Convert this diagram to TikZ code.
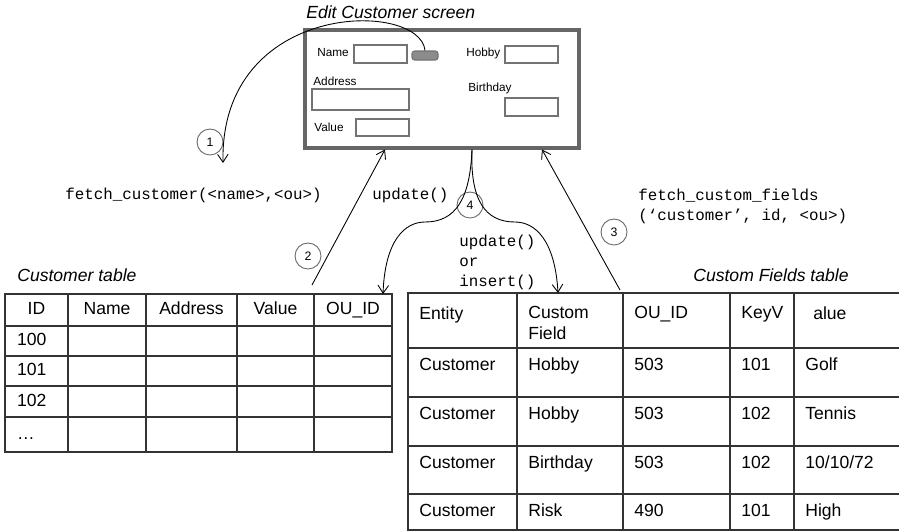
\documentclass[tikz,border=0pt]{standalone}
\usepackage{fontspec}
\setmainfont{Liberation Sans}
\setmonofont{Liberation Mono}
\usepackage{tikz}
\usetikzlibrary{arrows.meta, calc, positioning}

\newcommand{\pxu}{0.02cm}

\begin{document}
\begin{tikzpicture}[x=0.02cm, y=-0.02cm]
        \tikzstyle{screen} = [rectangle, draw=black!60, line width=2pt, anchor=north west, inner sep=0pt]
        \tikzstyle{field} = [rectangle, draw=black!55, line width=0.6pt, inner sep=0pt]
        \tikzstyle{flabel} = [anchor=west, inner sep=0pt, font=\fontsize{6.7}{8}\selectfont]
        \tikzstyle{tcell} = [rectangle, draw=black!80, line width=0.7pt, anchor=north west, inner sep=0pt, outer sep=0pt, text height=7.2pt, text depth=1.6pt, font=\fontsize{10}{12}\selectfont]
        \tikzstyle{ctext} = [anchor=north west, inner xsep=11*\pxu, inner ysep=9*\pxu, align=left, font=\fontsize{10}{12}\selectfont]
        \tikzstyle{htext} = [ctext, inner ysep=13*\pxu]
        \tikzstyle{code} = [inner sep=0pt, font=\fontsize{9}{11.3}\selectfont\ttfamily]
        \tikzstyle{caption} = [anchor=base west, inner sep=0pt, font=\fontsize{10}{12}\selectfont\itshape]
        \tikzstyle{num} = [circle, draw=black!60, line width=0.5pt, minimum size=26*\pxu, inner sep=0pt, font=\fontsize{7}{8}\selectfont]
        \tikzstyle{line} = [draw, line width=0.5pt, -{Straight Barb[length=4.5pt, width=6pt]}]

        \useasboundingbox (0,0) rectangle (899,531);

        % edit screen
        \node[screen, minimum width=274*\pxu, minimum height=118*\pxu] (screen) at (303,28) {};
        \node[caption] (title) at (306,18) {Edit Customer screen};

        \node[flabel] (lname) at (317,53) {Name};
        \node[field, minimum width=53*\pxu, minimum height=18*\pxu] (bname) at (380.5,54) {};
        \node[field, fill=black!45, rounded corners=1.5pt, minimum width=26*\pxu, minimum height=9*\pxu] (btn) at (425,55.5) {};
        \node[flabel] (lhobby) at (466,53) {Hobby};
        \node[field, minimum width=53*\pxu, minimum height=17*\pxu] (bhobby) at (531.5,54.5) {};
        \node[flabel] (laddr) at (313,81) {Address};
        \node[field, minimum width=97*\pxu, minimum height=21*\pxu] (baddr) at (360.5,99.5) {};
        \node[flabel] (lbday) at (468,88) {Birthday};
        \node[field, minimum width=53*\pxu, minimum height=18*\pxu] (bbday) at (531.5,107) {};
        \node[flabel] (lvalue) at (314,127) {Value};
        \node[field, minimum width=53*\pxu, minimum height=17*\pxu] (bvalue) at (382.5,127.5) {};

        % customer table
        \node[caption] (ctitle) at (17,281) {Customer table};
        \foreach \x/\w/\t [count=\i] in {5/63/ID, 68/78/Name, 146/91/Address, 237/77/Value, 314/78/OU\_ID}
            \node[tcell, minimum width=\w*\pxu, minimum height=32*\pxu] (ct-0-\i) at (\x,294) {\t};
        \foreach \y/\h/\t [count=\j] in {326/30/100, 356/30/101, 386/31/102, 417/35/\ldots} {
            \node[tcell, minimum width=63*\pxu, minimum height=\h*\pxu, text width=39*\pxu, align=left] (ct-\j-1) at (5,\y) {\t};
            \foreach \x/\w [count=\i from 2] in {68/78, 146/91, 237/77, 314/78}
                \node[tcell, minimum width=\w*\pxu, minimum height=\h*\pxu] (ct-\j-\i) at (\x,\y) {};
        }

        % custom fields table
        \node[caption] (cftitle) at (693,281) {Custom Fields table};
        \foreach \x/\w/\t [count=\i] in {408/109/Entity, 517/106/Custom\\Field, 623/107/OU\_ID, 730/64/KeyV, 794/111/\hspace*{4.5pt}alue}
            \node[tcell, minimum width=\w*\pxu, minimum height=55*\pxu, label={[htext]north west:\t}] (cf-0-\i) at (\x,293) {};
        \foreach \y/\h/\va/\vb/\vc/\vd/\ve [count=\r] in {348/49/Customer/Hobby/503/101/Golf, 397/49/Customer/Hobby/503/102/Tennis, 446/48/Customer/Birthday/503/102/10{/}10{/}72, 494/36/Customer/Risk/490/101/High} {
            \node[tcell, minimum width=109*\pxu, minimum height=\h*\pxu, label={[ctext, text height=7.2pt]north west:\va}] (cf-\r-1) at (408,\y) {};
            \node[tcell, minimum width=106*\pxu, minimum height=\h*\pxu, label={[ctext, text height=7.2pt]north west:\vb}] (cf-\r-2) at (517,\y) {};
            \node[tcell, minimum width=107*\pxu, minimum height=\h*\pxu, label={[ctext, text height=7.2pt]north west:\vc}] (cf-\r-3) at (623,\y) {};
            \node[tcell, minimum width=64*\pxu, minimum height=\h*\pxu, label={[ctext, text height=7.2pt]north west:\vd}] (cf-\r-4) at (730,\y) {};
            \node[tcell, minimum width=111*\pxu, minimum height=\h*\pxu, label={[ctext, text height=7.2pt]north west:\ve}] (cf-\r-5) at (794,\y) {};
        }

        % calls
        \node[code, anchor=base west] (fetchc) at (65,199) {fetch\_customer(<name>,<ou>)};
        \node[code, anchor=base west] (upd1) at (372,199) {update()};
        \node[code, anchor=north west, align=left] (upd2) at (459,235) {update()\\or\\insert()};
        \node[code, anchor=north west, align=left] (fetchcf) at (638,189) {fetch\_custom\_fields\\(‘customer’, id, <ou>)};

        \node[num] (n1) at (210,142) {1};
        \node[num] (n2) at (308,256) {2};
        \node[num] (n3) at (614,232) {3};
        \node[num] (n4) at (470,205) {4};

        \coordinate (c1) at (223,163);
        \coordinate (c2) at ([shift={(-2,-9)}]ct-0-5.north west);
        \coordinate (c3) at ([shift={(-3,-3)}]cf-0-3.north west);
        \coordinate (c4) at ($(screen.south west)+(169,0)$);

        \path[line] (btn.north) .. controls (420,0) and (220,0) .. (c1);
        \path[line] (c2) -- ($(screen.south west)+(82,0)$);
        \path[line] (c3) -- ($(screen.south west)+(239,0)$);
        \path[line] (c4) .. controls (470,200) and (455,222) .. (425,222) .. controls (405,222) and (385,240) .. ([xshift=-9*\pxu]ct-0-5.north east);
        \path[line] (c4) .. controls (470,200) and (485,222) .. (515,222) .. controls (535,222) and (555,240) .. ([xshift=41*\pxu]cf-0-2.north west);
\end{tikzpicture}
\end{document}
